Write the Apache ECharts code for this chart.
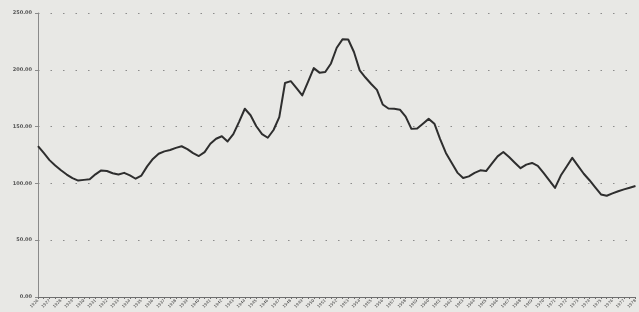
<!DOCTYPE html>
<html>
<head>
<meta charset="utf-8">
<script src="https://cdn.jsdelivr.net/npm/echarts@6/dist/echarts.min.js"></script>
<style>
    html, body { margin: 0; padding: 0; background: #e8e8e5; }
    #chart { width: 639px; height: 312px; }
</style>
</head>
<body>
<div id="chart"></div>
<script>
    // años (una etiqueta cada dos periodos)
    var years = [];
    for (var y = 1926; y <= 1978; y++) years.push(String(y));

    // periodos semestrales
    var categories = [];
    years.forEach(function (yr, i) {
        categories.push(yr);
        if (i < years.length - 1) categories.push(yr + '-II');
    });

    var values = [
        132.9, 126.8, 120.5, 115.8, 111.6, 107.8, 104.6, 102.5, 103.1, 103.6,
        108.0, 111.4, 110.9, 108.9, 107.8, 109.3, 107.1, 104.1, 106.9, 115.0,
        121.5, 126.1, 128.2, 129.4, 131.3, 132.7, 130.2, 126.7, 124.1, 127.5,
        134.9, 139.3, 141.5, 136.9, 143.4, 154.2, 165.7, 160.0, 150.3, 143.4,
        140.2, 147.0, 158.3, 188.4, 190.0, 183.9, 177.4, 189.3, 201.5, 197.5,
        198.1, 205.6, 219.4, 226.8, 226.7, 215.7, 199.5, 193.2, 187.5, 182.3,
        169.5, 165.9, 165.7, 164.9, 158.8, 148.0, 148.4, 152.6, 156.8, 152.6,
        139.0, 126.8, 118.2, 109.5, 104.8, 106.2, 109.3, 111.5, 110.9, 117.4,
        123.8, 127.6, 123.2, 118.2, 113.4, 116.5, 118.0, 115.5, 109.2, 102.6,
        96.0, 106.9, 114.6, 122.5, 115.5, 108.5, 102.8, 96.5, 90.3, 89.1,
        91.2, 93.1, 94.7, 96.2, 97.7
    ];

    var yTicks = [0, 50, 100, 150, 200, 250];

    var chart = echarts.init(document.getElementById('chart'));
    chart.setOption({
        backgroundColor: '#e8e8e5',
        animation: false,
        grid: {
            left: 38,
            right: 0,
            top: 13,
            bottom: 15
        },
        xAxis: {
            type: 'category',
            data: categories,
            boundaryGap: false,
            axisLine: { lineStyle: { color: '#6e6e6e', width: 1 } },
            axisTick: { show: true, interval: 0, length: 2, lineStyle: { color: '#6e6e6e' } },
            axisLabel: {
                interval: 1,
                rotate: 45,
                fontSize: 4,
                margin: 3,
                color: '#444',
                fontFamily: 'DejaVu Sans',
                formatter: function (v) { return v.indexOf('-') < 0 ? v : ''; }
            },
            splitLine: { show: false }
        },
        yAxis: {
            type: 'value',
            min: yTicks[0],
            max: yTicks[yTicks.length - 1],
            interval: 50,
            axisLine: { show: true, lineStyle: { color: '#8a8a8a', width: 1 } },
            axisTick: { show: true, length: 3, lineStyle: { color: '#8a8a8a' } },
            axisLabel: {
                fontSize: 5,
                margin: 6,
                color: '#555',
                fontFamily: 'DejaVu Sans',
                fontWeight: 'bold',
                formatter: function (v) { return v.toFixed(2); }
            },
            splitLine: {
                show: true,
                lineStyle: { color: '#8c8c8c', type: [1.5, 11], width: 1.2 }
            }
        },
        series: [
            {
                type: 'line',
                data: values,
                smooth: false,
                symbol: 'none',
                lineStyle: { color: '#2e2e2e', width: 2, join: 'round' }
            }
        ]
    });
</script>
</body>
</html>
